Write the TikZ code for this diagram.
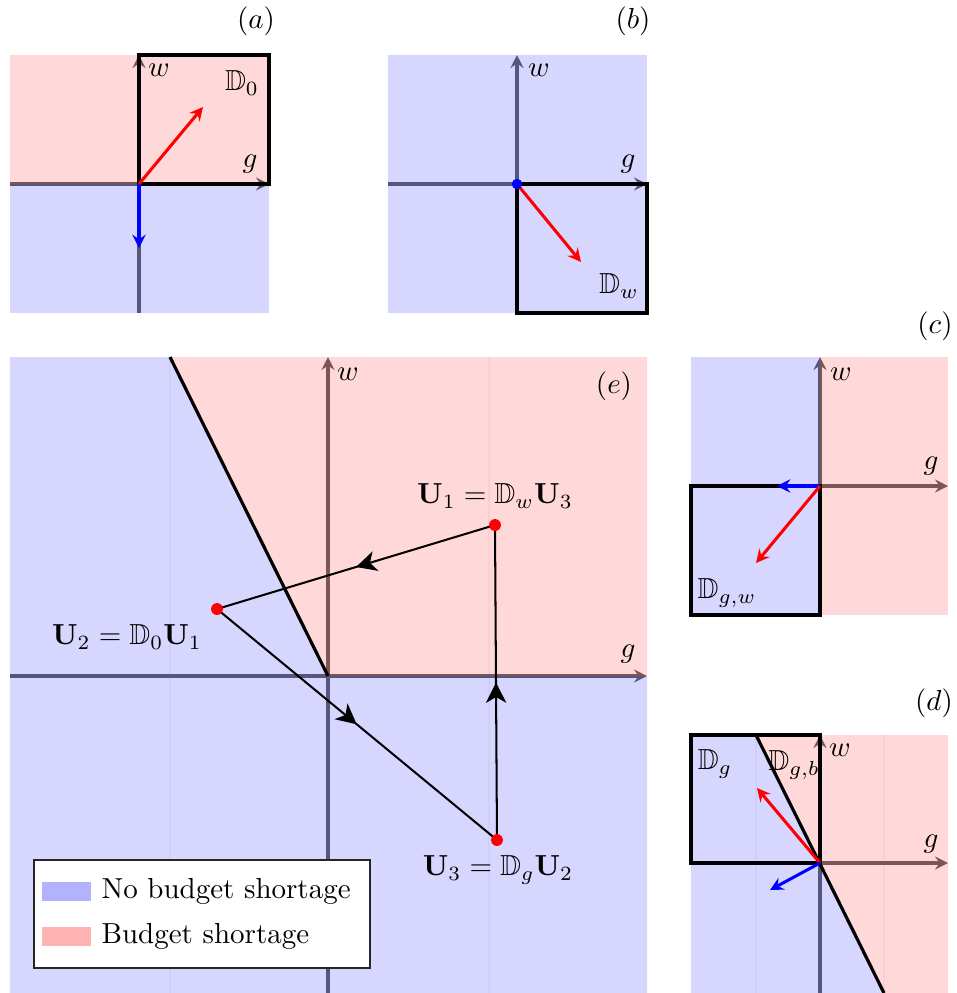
\documentclass[tikz,border=0pt]{standalone}
\usepackage{amssymb}
\usetikzlibrary{arrows.meta,decorations.markings}
\tikzset{
  bluebg/.style={fill=blue, fill opacity=0.16},
  pinkbg/.style={fill=red, fill opacity=0.15},
  axis/.style={draw=black!60, line width=1.05pt, -{Stealth[length=4.5pt,width=4.5pt,inset=1.6pt]}},
  bbox/.style={draw=black, line width=1.4pt},
  vec/.style={line width=1.05pt, -{Stealth[length=4.6pt,width=4.6pt,inset=1.6pt]}},
  faint/.style={draw=black!3, line width=0.4pt},
  divline/.style={draw=black, line width=1.1pt},
  cyc/.style={draw=black, line width=0.7pt, postaction={decorate},
    decoration={markings, mark=at position 0.5 with {\arrow{Stealth[length=7pt,width=7pt,inset=2pt]}}}},
  lab/.style={inner sep=0pt},
  dot/.style={circle, inner sep=0pt, minimum size=4.1pt},
}
\begin{document}
\begin{tikzpicture}[x=0.345pt,y=-0.345pt]
\path[use as bounding box] (0,0) rectangle (957,993);

% ---------------- panel (a)
\coordinate (Oa) at (139,184);
\coordinate (aGl) at (10,184); \coordinate (aGr) at (269,184);
\coordinate (aWb) at (139,313); \coordinate (aWt) at (139,55);
\draw[axis] (aGl) -- (aGr);
\draw[axis] (aWb) -- (aWt);
\fill[pinkbg] (10,55) rectangle (269,184);
\fill[bluebg] (10,184) rectangle (269,313);
\draw[bbox] (139,55) rectangle (269,184);
\coordinate (aR) at (203,107); \coordinate (aB) at (139,248);
\draw[vec, red] (Oa) -- (aR);
\draw[vec, blue] (Oa) -- (aB);
\node[lab] (la) at (256,21) {$(a)$};
\node[lab] (aw) at (159,70) {$w$};
\node[lab] (aD) at (242,83) {$\mathbb{D}_0$};
\node[lab] (ag) at (250,164) {$g$};

% ---------------- panel (b)
\coordinate (Ob) at (517,184);
\coordinate (bGl) at (388,184); \coordinate (bGr) at (647,184);
\coordinate (bWb) at (517,313); \coordinate (bWt) at (517,55);
\draw[axis] (bGl) -- (bGr);
\draw[axis] (bWb) -- (bWt);
\fill[bluebg] (388,55) rectangle (647,313);
\draw[bbox] (517,184) rectangle (647,313);
\coordinate (bR) at (581,262);
\draw[vec, red] (Ob) -- (bR);
\node[dot, fill=blue, minimum size=3.6pt] (bdot) at (Ob) {};
\node[lab] (lb) at (633,21) {$(b)$};
\node[lab] (bw) at (539,70) {$w$};
\node[lab] (bg) at (628,164) {$g$};
\node[lab] (bD) at (619,286) {$\mathbb{D}_w$};

% ---------------- panel (c)
\coordinate (Oc) at (820,486);
\coordinate (cGl) at (691,486); \coordinate (cGr) at (948,486);
\coordinate (cWb) at (820,615); \coordinate (cWt) at (820,357);
\draw[axis] (cGl) -- (cGr);
\draw[axis] (cWb) -- (cWt);
\fill[bluebg] (691,357) rectangle (820,615);
\fill[pinkbg] (820,357) rectangle (948,615);
\draw[bbox] (691,486) rectangle (820,615);
\coordinate (cB) at (777,486); \coordinate (cR) at (756,563);
\draw[vec, blue] (Oc) -- (cB);
\draw[vec, red] (Oc) -- (cR);
\node[lab] (lc) at (935,326) {$(c)$};
\node[lab] (cw) at (841,374) {$w$};
\node[lab] (cg) at (931,466) {$g$};
\node[lab] (cD) at (727,593) {$\mathbb{D}_{g,w}$};

% ---------------- panel (d)
\draw[faint] (756,735) -- (756,993);
\draw[faint] (884,735) -- (884,993);
\coordinate (Od) at (820,863);
\coordinate (dGl) at (691,863); \coordinate (dGr) at (948,863);
\coordinate (dWb) at (820,993); \coordinate (dWt) at (820,735);
\draw[axis] (dGl) -- (dGr);
\draw[axis] (dWb) -- (dWt);
\fill[bluebg] (691,735) -- (756,735) -- (884,993) -- (691,993) -- cycle;
\fill[pinkbg] (756,735) -- (948,735) -- (948,993) -- (884,993) -- cycle;
\coordinate (dL1) at (756,735); \coordinate (dL2) at (884,993);
\draw[divline] (dL1) -- (dL2);
\draw[bbox] (691,735) rectangle (820,863);
\coordinate (dR) at (757,788); \coordinate (dB) at (770,890);
\draw[vec, red] (Od) -- (dR);
\draw[vec, blue] (Od) -- (dB);
\node[lab] (ld) at (934,703) {$(d)$};
\node[lab] (dD1) at (715,764) {$\mathbb{D}_g$};
\node[lab] (dD2) at (794,765) {$\mathbb{D}_{g,b}$};
\node[lab] (dw) at (840,750) {$w$};
\node[lab] (dg) at (931,844) {$g$};

% ---------------- panel (e)
\draw[faint] (170,357) -- (170,993);
\draw[faint] (489,357) -- (489,993);
\coordinate (Oe) at (328,676);
\coordinate (eGl) at (10,676); \coordinate (eGr) at (647,676);
\coordinate (eWb) at (328,993); \coordinate (eWt) at (328,357);
\draw[axis] (eGl) -- (eGr);
\draw[axis] (eWb) -- (eWt);
\fill[bluebg] (10,357) -- (170,357) -- (328,676) -- (647,676) -- (647,993) -- (10,993) -- cycle;
\fill[pinkbg] (170,357) -- (647,357) -- (647,676) -- (328,676) -- cycle;
\coordinate (eL1) at (170,357);
\draw[divline] (eL1) -- (Oe);
\coordinate (U1) at (495,525);
\coordinate (U2) at (217,609);
\coordinate (U3) at (497,840);
\draw[cyc] (U1) -- (U2);
\draw[cyc] (U2) -- (U3);
\draw[cyc] (U3) -- (U1);
\node[dot, fill=red] (u1dot) at (U1) {};
\node[dot, fill=red] (u2dot) at (U2) {};
\node[dot, fill=red] (u3dot) at (U3) {};
\node[lab] (le) at (614,386) {$(e)$};
\node[lab] (ew) at (348,374) {$w$};
\node[lab] (eg) at (628,654) {$g$};
\node[lab] (u1lab) at (495,496) {$\mathbf{U}_1=\mathbb{D}_w\mathbf{U}_3$};
\node[lab] (u2lab) at (127,637) {$\mathbf{U}_2=\mathbb{D}_0\mathbf{U}_1$};
\node[lab] (u3lab) at (498,870) {$\mathbf{U}_3=\mathbb{D}_g\mathbf{U}_2$};

% legend
\draw[draw=black!85, fill=white, line width=0.5pt] (34,860) rectangle (370,968);
\fill[blue!30] (42,882) rectangle (91,901);
\fill[red!30] (42,927) rectangle (91,946);
\node[lab, anchor=west] (leg1) at (101,891) {No budget shortage};
\node[lab, anchor=west] (leg2) at (101,936) {Budget shortage};
\end{tikzpicture}
\end{document}
